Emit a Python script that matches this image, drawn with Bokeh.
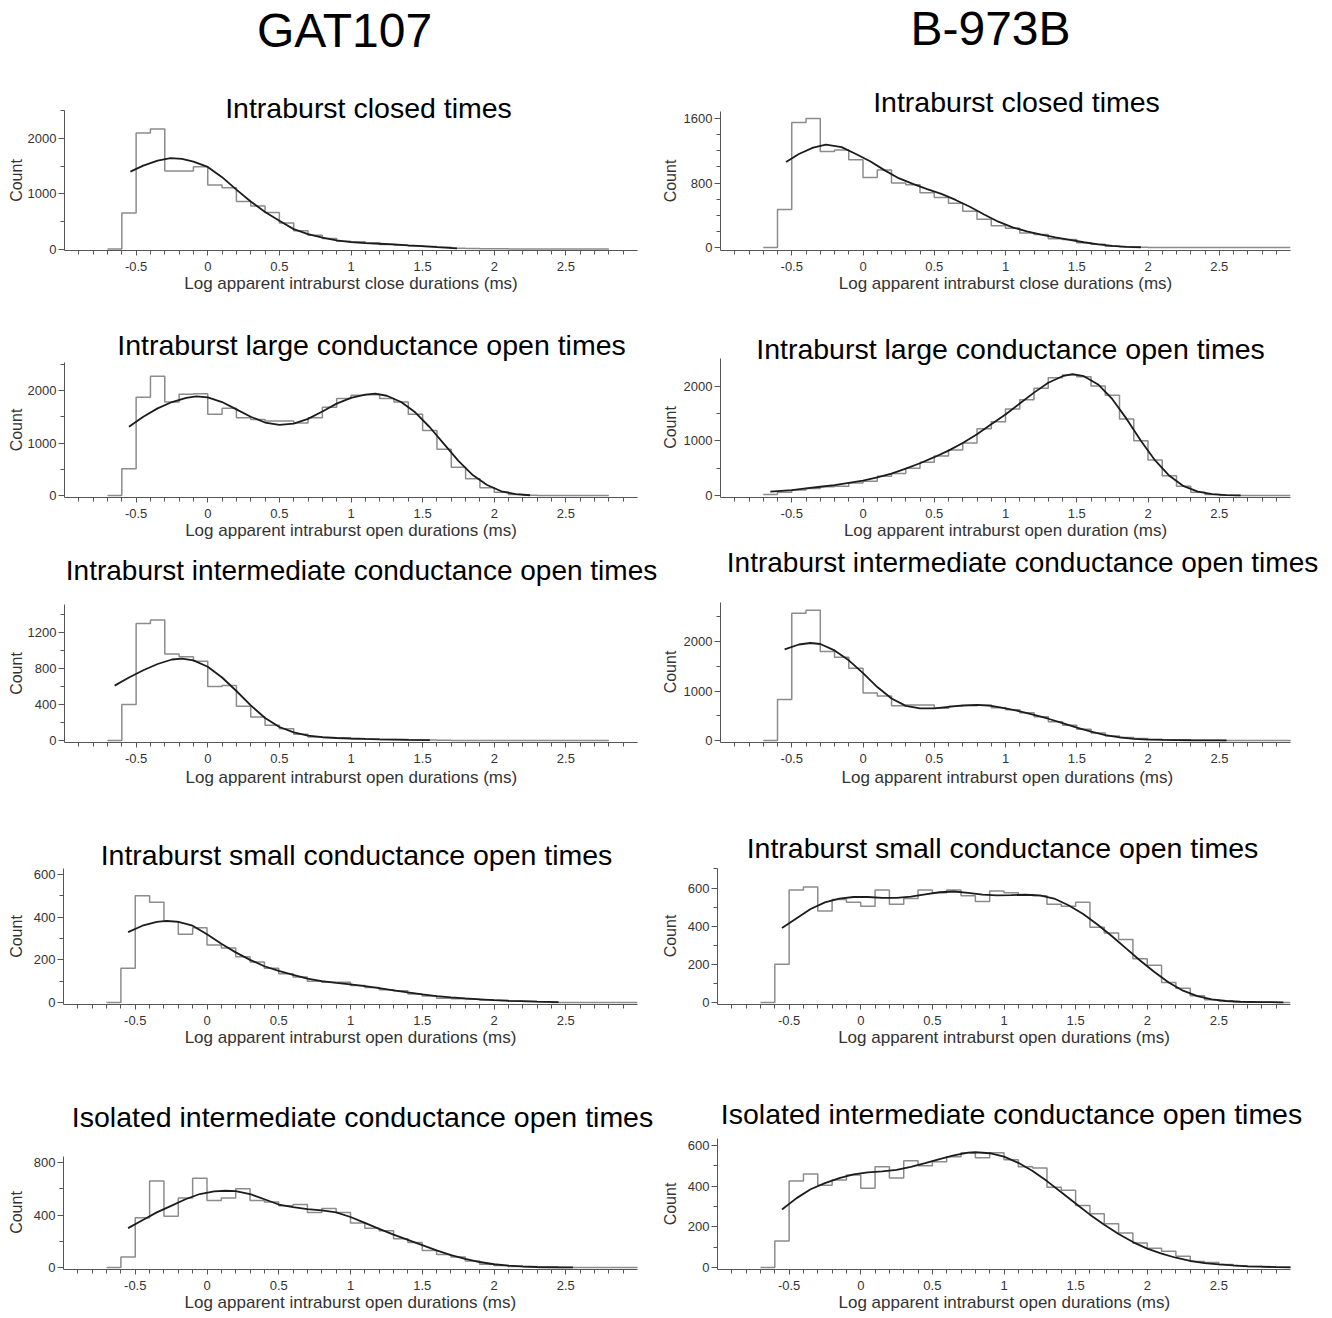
import math
from bokeh.plotting import figure
from bokeh.layouts import column, row
from bokeh.models import Range1d, FixedTicker, Label, Title
from bokeh.embed import file_html
from bokeh.resources import INLINE

# ---------------- data ----------------
BIN_START = -0.7
BIN_WIDTH = 0.1

XTICKS = [-0.5, 0, 0.5, 1, 1.5, 2, 2.5]
XTICK_LABELS = ["-0.5", "0", "0.5", "1", "1.5", "2", "2.5"]

COL_HEADERS = ["GAT107", "B-973B"]

TITLES = [
    "Intraburst closed times",
    "Intraburst large conductance open times",
    "Intraburst intermediate conductance open times",
    "Intraburst small conductance open times",
    "Isolated intermediate conductance open times",
]
YLABEL = "Count"
XLABEL_CLOSE = "Log apparent intraburst close durations (ms)"
XLABEL_OPEN = "Log apparent intraburst open durations (ms)"
XLABEL_OPEN1 = "Log apparent intraburst open duration (ms)"

# GAT107 -- closed times
L1_counts = [0, 650, 2100, 2170, 1410, 1410, 1490, 1160, 1110, 860, 780, 660, 470, 330, 250, 190, 140, 130, 110, 80,
             70, 55, 45, 30, 15, 8, 5, 3, 2, 1, 0, 0, 0, 0, 0]
L1_fit_x = [-0.54, -0.45, -0.35, -0.26, -0.18, -0.1, 0, 0.1, 0.2, 0.3, 0.4, 0.5, 0.6, 0.7, 0.8, 0.9, 1.0, 1.1, 1.2,
            1.3, 1.4, 1.5, 1.6, 1.74]
L1_fit_y = [1400, 1510, 1600, 1645, 1630, 1580, 1485, 1300, 1075, 860, 670, 510, 360, 270, 205, 155, 125, 108, 95, 82,
            65, 52, 35, 12]
L1_yticks = [0, 1000, 2000]
L1_yminor = [500, 1500, 2500]

# B-973B -- closed times
R1_counts = [0, 470, 1550, 1600, 1190, 1210, 1090, 870, 960, 800, 780, 680, 620, 550, 450, 350, 270, 240, 180, 160,
             110, 100, 60, 40, 15, 8, 3, 0, 0, 0, 0, 0, 0, 0, 0, 0, 0]
R1_fit_x = [-0.54, -0.45, -0.35, -0.26, -0.15, -0.05, 0.05, 0.15, 0.25, 0.35, 0.45, 0.55, 0.65, 0.75, 0.85, 0.95,
            1.05, 1.15, 1.25, 1.35, 1.45, 1.55, 1.65, 1.75, 1.85, 1.95]
R1_fit_y = [1060, 1160, 1240, 1275, 1245, 1160, 1070, 960, 860, 790, 725, 665, 590, 505, 410, 320, 250, 200, 160, 125,
            95, 65, 40, 20, 9, 3]
R1_yticks = [0, 800, 1600]
R1_yminor = [200, 400, 600, 1000, 1200, 1400]

# GAT107 -- large conductance
L2_counts = [0, 510, 1870, 2270, 1780, 1930, 1940, 1550, 1660, 1480, 1450, 1420, 1420, 1380, 1480, 1680, 1850, 1910,
             1920, 1850, 1780, 1550, 1240, 880, 540, 320, 150, 60, 20, 5, 0, 0, 0, 0, 0]
L2_fit_x = [-0.55, -0.45, -0.35, -0.25, -0.15, -0.08, 0, 0.1, 0.2, 0.3, 0.4, 0.5, 0.6, 0.7, 0.8, 0.9, 1.0, 1.1, 1.17,
            1.25, 1.35, 1.45, 1.55, 1.65, 1.75, 1.85, 1.95, 2.05, 2.15, 2.25]
L2_fit_y = [1310, 1500, 1660, 1780, 1860, 1890, 1870, 1780, 1640, 1500, 1390, 1345, 1370, 1460, 1600, 1750, 1860, 1920,
            1940, 1900, 1780, 1580, 1300, 980, 660, 390, 200, 80, 25, 5]
L2_yticks = [0, 1000, 2000]
L2_yminor = [500, 1500, 2500]

# B-973B -- large conductance
R2_counts = [20, 60, 100, 130, 160, 170, 230, 260, 350, 400, 500, 610, 720, 830, 960, 1220, 1350, 1580, 1750, 1960,
             2150, 2200, 2170, 2000, 1830, 1400, 1000, 650, 360, 170, 60, 20, 5, 2, 0, 0, 0]
R2_fit_x = [-0.65, -0.5, -0.4, -0.3, -0.2, -0.1, 0, 0.1, 0.2, 0.3, 0.4, 0.5, 0.6, 0.7, 0.8, 0.9, 1.0, 1.1, 1.2, 1.3,
            1.4, 1.47, 1.55, 1.65, 1.75, 1.85, 1.95, 2.05, 2.15, 2.25, 2.35, 2.45, 2.55, 2.65]
R2_fit_y = [70, 100, 130, 160, 190, 230, 270, 330, 400, 490, 590, 700, 820, 960, 1120, 1300, 1480, 1680, 1880, 2060,
            2180, 2220, 2180, 2030, 1760, 1400, 1000, 640, 360, 170, 70, 25, 8, 2]
R2_yticks = [0, 1000, 2000]
R2_yminor = [500, 1500]

# GAT107 -- intermediate conductance
L3_counts = [0, 400, 1300, 1340, 960, 930, 880, 600, 610, 380, 260, 170, 130, 70, 40, 30, 25, 20, 15, 12,
             10, 8, 6, 4, 0, 0, 0, 0, 0, 0, 0, 0, 0, 0, 0]
L3_fit_x = [-0.65, -0.55, -0.45, -0.35, -0.25, -0.18, -0.1, 0, 0.1, 0.2, 0.3, 0.4, 0.5, 0.6, 0.7, 0.8, 0.9, 1.0, 1.1,
            1.2, 1.3, 1.4, 1.55]
L3_fit_y = [610, 700, 780, 850, 900, 910, 890, 820, 700, 550, 390, 250, 150, 90, 55, 38, 28, 22, 17, 13, 10, 7, 5]
L3_yticks = [0, 400, 800, 1200]
L3_yminor = [200, 600, 1000, 1400]

# B-973B -- intermediate conductance
R3_counts = [0, 830, 2570, 2630, 1800, 1680, 1460, 960, 900, 700, 720, 720, 650, 690, 700, 720, 660, 620, 560, 480,
             380, 310, 230, 150, 90, 60, 40, 25, 15, 10, 6, 3, 0, 0, 0, 0, 0]
R3_fit_x = [-0.55, -0.45, -0.37, -0.3, -0.2, -0.1, 0, 0.1, 0.2, 0.3, 0.4, 0.5, 0.6, 0.7, 0.8, 0.9, 1.0, 1.1, 1.2, 1.3,
            1.4, 1.5, 1.6, 1.7, 1.8, 1.9, 2.0, 2.1, 2.2, 2.3, 2.4, 2.55]
R3_fit_y = [1840, 1940, 1970, 1950, 1820, 1620, 1360, 1080, 850, 700, 650, 650, 680, 710, 720, 700, 650, 590, 520, 440,
            350, 260, 180, 110, 65, 35, 20, 12, 8, 5, 3, 2]
R3_yticks = [0, 1000, 2000]
R3_yminor = [500, 1500, 2500]

# GAT107 -- small conductance
L4_counts = [0, 160, 500, 470, 380, 320, 350, 270, 255, 215, 190, 160, 135, 120, 100, 95, 95, 80, 70, 60,
             55, 40, 30, 20, 18, 15, 12, 10, 7, 5, 3, 0, 0, 0, 0, 0, 0]
L4_fit_x = [-0.55, -0.45, -0.35, -0.28, -0.2, -0.1, 0, 0.1, 0.2, 0.3, 0.4, 0.5, 0.6, 0.7, 0.8, 0.9, 1.0, 1.1, 1.2,
            1.3, 1.4, 1.5, 1.6, 1.7, 1.8, 1.9, 2.0, 2.1, 2.2, 2.3, 2.45]
L4_fit_y = [330, 360, 378, 383, 378, 360, 320, 275, 235, 200, 170, 148, 130, 112, 100, 92, 85, 77, 67, 57, 47, 38, 30,
            24, 19, 15, 11, 8, 6, 4, 2]
L4_yticks = [0, 200, 400, 600]
L4_yminor = [100, 300, 500]

# B-973B -- small conductance
R4_counts = [0, 200, 590, 605, 480, 540, 525, 505, 590, 515, 545, 590, 575, 590, 560, 530, 585, 575, 565, 560,
             515, 505, 525, 395, 365, 330, 230, 195, 105, 75, 35, 15, 8, 4, 2, 1, 0]
R4_fit_x = [-0.55, -0.45, -0.35, -0.25, -0.15, -0.05, 0.05, 0.15, 0.25, 0.35, 0.45, 0.55, 0.65, 0.75, 0.85, 0.95,
            1.05, 1.15, 1.25, 1.35, 1.45, 1.55, 1.65, 1.75, 1.85, 1.95, 2.05, 2.15, 2.25, 2.35, 2.45, 2.55, 2.65,
            2.8, 2.95]
R4_fit_y = [390, 440, 490, 525, 545, 553, 553, 548, 548, 555, 567, 578, 582, 575, 566, 562, 563, 565, 562, 545, 510,
            465, 410, 350, 285, 220, 160, 105, 62, 33, 16, 8, 4, 2, 1]
R4_yticks = [0, 200, 400, 600]
R4_yminor = [100, 300, 500, 700]

# GAT107 -- isolated intermediate conductance
L5_counts = [0, 80, 380, 660, 390, 530, 680, 510, 530, 600, 510, 500, 470, 480, 420, 450, 420, 340, 300, 280,
             220, 190, 130, 100, 80, 50, 25, 15, 8, 4, 0, 0, 0, 0, 0, 0, 0]
L5_fit_x = [-0.55, -0.45, -0.35, -0.25, -0.15, -0.05, 0.05, 0.13, 0.2, 0.3, 0.4, 0.5, 0.6, 0.7, 0.8, 0.9, 1.0, 1.1,
            1.2, 1.3, 1.4, 1.5, 1.6, 1.7, 1.8, 1.9, 2.0, 2.1, 2.2, 2.3, 2.45, 2.55]
L5_fit_y = [300, 360, 420, 470, 520, 560, 580, 585, 582, 560, 520, 480, 460, 445, 435, 420, 385, 340, 295, 250, 210,
            170, 130, 95, 65, 42, 25, 14, 8, 4, 2, 1]
L5_yticks = [0, 400, 800]
L5_yminor = [200, 600]

# B-973B -- isolated intermediate conductance
R5_counts = [0, 130, 425, 460, 405, 430, 455, 390, 495, 440, 525, 500, 520, 545, 565, 540, 565, 530, 495, 490,
             395, 380, 305, 265, 215, 170, 120, 95, 80, 55, 30, 25, 15, 8, 5, 3, 2]
R5_fit_x = [-0.55, -0.45, -0.35, -0.25, -0.15, -0.05, 0.05, 0.15, 0.25, 0.35, 0.45, 0.55, 0.65, 0.75, 0.8, 0.9, 1.0,
            1.1, 1.2, 1.3, 1.4, 1.5, 1.6, 1.7, 1.8, 1.9, 2.0, 2.1, 2.2, 2.3, 2.4, 2.5, 2.6, 2.7, 2.8, 2.9, 3.0]
R5_fit_y = [285, 340, 385, 415, 440, 458, 468, 473, 480, 495, 513, 533, 552, 565, 567, 562, 545, 515, 475, 425, 370,
            315, 260, 210, 165, 125, 93, 68, 48, 33, 22, 15, 10, 6, 4, 2, 1]
R5_yticks = [0, 200, 400, 600]
R5_yminor = [100, 300, 500]

# ---------------- style / layout ----------------
FONT = "Liberation Sans"
HIST_COLOR = "#8c8c8c"
FIT_COLOR = "#1c1c1c"
AXIS_COLOR = "#555555"
LABEL_COLOR = "#333333"

XMIN, XMAX = -1.0, 3.0
XMINOR = [round(-0.9 + 0.1 * i, 1) for i in range(39)]

# column geometry (page pixels)
#   cx/cw: narrow strip holding the "Count" label, lx: its centre
#   fx/fw: plot figure, ax0: y-axis x, ax1: x-axis right end, xl: left edge of x-axis title
COLS = [dict(cx=0, cw=24, lx=16, fx=24, fw=636, ax0=63, ax1=637, xl=184),
        dict(cx=660, cw=20, lx=670, fx=680, fw=652, ax0=717, ax1=1290, xl=838)]
ROW_TOPS = [0, 296, 544, 800, 1058]
ROW_H = [296, 248, 256, 258, 260]
# rows whose title is wider than the axis: frame runs to the figure edge, x title placed explicitly
WIDE_ROWS = {2: 4, 4: 0}   # row -> standoff of the x-axis title

# per panel pixel geometry: (x-axis y, y-axis top y, pixel of count 0, px per count)
GEOM = [
    [(250, 110, 248.5, 0.05525), (250, 111, 247, 0.0806)],
    [(497, 362, 495, 0.0525), (498, 358, 496, 0.055)],
    [(742, 604, 740, 0.09), (744, 603, 742, 0.05)],
    [(1004, 868, 1002, 0.2133), (1005, 868, 1003, 0.1917)],
    [(1271, 1157, 1269, 0.1325), (1269, 1138, 1267, 0.2033)],
]
# title centres (page pixels) and font sizes
TITLE_POS = [
    [(367, 107, 28.5), (1013, 101, 28.5)],
    [(370, 344, 28.5), (1007, 349, 28.5)],
    [(360, 570, 28), (1019, 564, 28)],
    [(356, 854, 28.5), (1002, 848, 28.5)],
    [(362, 1118, 28.5), (1011, 1113, 28.5)],
]
HEADER_POS = [(343, 30), (987, 28)]

DATA = [
    [(L1_counts, L1_fit_x, L1_fit_y, L1_yticks, L1_yminor, XLABEL_CLOSE),
     (R1_counts, R1_fit_x, R1_fit_y, R1_yticks, R1_yminor, XLABEL_CLOSE)],
    [(L2_counts, L2_fit_x, L2_fit_y, L2_yticks, L2_yminor, XLABEL_OPEN),
     (R2_counts, R2_fit_x, R2_fit_y, R2_yticks, R2_yminor, XLABEL_OPEN1)],
    [(L3_counts, L3_fit_x, L3_fit_y, L3_yticks, L3_yminor, XLABEL_OPEN),
     (R3_counts, R3_fit_x, R3_fit_y, R3_yticks, R3_yminor, XLABEL_OPEN)],
    [(L4_counts, L4_fit_x, L4_fit_y, L4_yticks, L4_yminor, XLABEL_OPEN),
     (R4_counts, R4_fit_x, R4_fit_y, R4_yticks, R4_yminor, XLABEL_OPEN)],
    [(L5_counts, L5_fit_x, L5_fit_y, L5_yticks, L5_yminor, XLABEL_OPEN),
     (R5_counts, R5_fit_x, R5_fit_y, R5_yticks, R5_yminor, XLABEL_OPEN)],
]


def count_strip(r, c):
    col = COLS[c]
    h = ROW_H[r]
    axis_y, axis_top, _, _ = GEOM[r][c]
    p = figure(width=col["cw"], height=h, x_range=Range1d(0, 1), y_range=Range1d(0, 1),
               x_axis_type=None, y_axis_type=None, output_backend="svg", toolbar_location=None, title=None,
               min_border_left=0, min_border_right=0, min_border_top=0, min_border_bottom=0)
    p.outline_line_color = None
    p.background_fill_color = "white"
    p.border_fill_color = "white"
    mid = (axis_y + axis_top) / 2
    # the strip's frame is aligned with the panel frame of the same row (bottom = x axis)
    p.add_layout(Label(x=col["lx"] - col["cx"], y=axis_y - mid, x_units="screen", y_units="screen",
                       text=YLABEL, angle=math.pi / 2, text_align="center", text_baseline="middle",
                       text_font=FONT, text_font_size="16px", text_color=LABEL_COLOR))
    return p


def panel(r, c):
    col = COLS[c]
    top = ROW_TOPS[r]
    h = ROW_H[r]
    axis_y, axis_top, p0, k = GEOM[r][c]
    counts, fx, fy, yticks, yminor, xlabel = DATA[r][c]
    wide = r in WIDE_ROWS

    xs = (col["ax1"] - col["ax0"]) / (XMAX - XMIN)
    frame_right = col["fx"] + col["fw"] if wide else col["ax1"]
    x_end = XMAX + (frame_right - col["ax1"]) / xs
    y_start = -(axis_y - p0) / k
    y_end = (p0 - top) / k
    y_bound = (p0 - axis_top) / k

    p = figure(width=col["fw"], height=h, x_range=Range1d(XMIN, x_end), y_range=Range1d(y_start, y_end),
               output_backend="svg", toolbar_location=None, title=None,
               min_border_left=col["ax0"] - col["fx"], min_border_right=col["fx"] + col["fw"] - frame_right,
               min_border_top=0, min_border_bottom=top + h - axis_y)
    p.background_fill_color = "white"
    p.border_fill_color = "white"
    p.outline_line_color = None
    p.xgrid.visible = False
    p.ygrid.visible = False

    edges = [round(BIN_START + BIN_WIDTH * i, 2) for i in range(len(counts) + 1)]
    p.step(edges, list(counts) + [counts[-1]], mode="after", line_color=HIST_COLOR, line_width=1.5)
    p.line(fx, fy, line_color=FIT_COLOR, line_width=1.8)

    xa = p.xaxis[0]
    xa.ticker = FixedTicker(ticks=XTICKS, minor_ticks=XMINOR)
    xa.major_label_overrides = {float(t): l for t, l in zip(XTICKS, XTICK_LABELS)}
    xa.bounds = (XMIN, XMAX)
    ya = p.yaxis[0]
    ya.ticker = FixedTicker(ticks=yticks, minor_ticks=yminor)
    ya.bounds = (y_start, y_bound)
    for ax in (xa, ya):
        ax.axis_line_color = AXIS_COLOR
        ax.major_tick_line_color = AXIS_COLOR
        ax.minor_tick_line_color = AXIS_COLOR
        ax.major_tick_in = 0
        ax.minor_tick_in = 0
        ax.major_label_text_font = FONT
        ax.major_label_text_font_size = "13px"
        ax.major_label_text_color = LABEL_COLOR
        ax.axis_label_text_font = FONT
        ax.axis_label_text_font_size = "17px"
        ax.axis_label_text_font_style = "normal"
        ax.axis_label_text_color = LABEL_COLOR
    xa.major_tick_out = 5
    xa.minor_tick_out = 4
    xa.major_label_standoff = 6
    xa.axis_label_standoff = 0
    ya.major_tick_out = 6
    ya.minor_tick_out = 4
    ya.major_label_standoff = 2

    if wide:
        # axis title positioned from its left edge, as in the reference
        p.add_layout(Title(text=xlabel, align="left", offset=col["xl"] - col["ax0"], vertical_align="top",
                           standoff=WIDE_ROWS[r], text_font=FONT, text_font_size="17px",
                           text_font_style="normal", text_color=LABEL_COLOR), "below")
    else:
        xa.axis_label = xlabel

    tx, ty, tfs = TITLE_POS[r][c]
    p.add_layout(Label(x=tx - col["ax0"], y=axis_y - ty, x_units="screen", y_units="screen", text=TITLES[r],
                       text_align="center", text_baseline="middle", text_font=FONT,
                       text_font_size=f"{tfs}px", text_color="black"))
    if r == 0:
        hx, hy = HEADER_POS[c]
        p.add_layout(Label(x=hx - col["ax0"], y=axis_y - hy, x_units="screen", y_units="screen",
                           text=COL_HEADERS[c], text_align="center", text_baseline="middle", text_font=FONT,
                           text_font_size="48px", text_color="black"))
    return p


page = column(*[row(count_strip(r, 0), panel(r, 0), count_strip(r, 1), panel(r, 1)) for r in range(5)])

open("out.html", "w").write(file_html(page, INLINE))
